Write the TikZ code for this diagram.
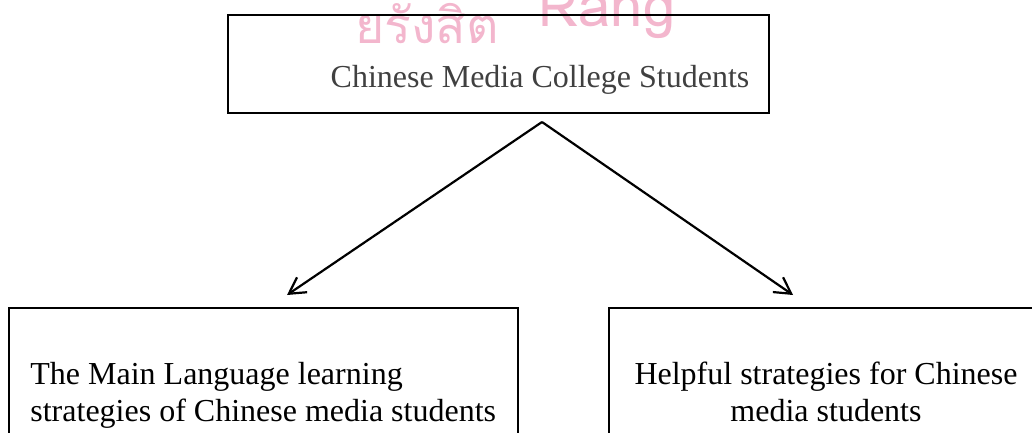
\documentclass[tikz,border=0pt]{standalone}
\usepackage{fontspec}
\setmainfont{Liberation Serif}
\newfontfamily\thaifont[Script=Thai]{Loma}
\usetikzlibrary{arrows.meta}
\definecolor{markpink}{RGB}{243,182,205}
\definecolor{titlegray}{RGB}{64,64,64}
\tikzset{
  framebox/.style={draw=black, line width=0.65pt, rectangle, inner sep=0pt},
  boxtext/.style={inner sep=0pt, font=\fontsize{16}{18.5}\selectfont},
  branch/.style={line width=1.1pt, -{Straight Barb[length=8pt,width=9pt,line width=1.1pt]}},
}
\begin{document}
\begin{tikzpicture}[x=0.5pt,y=-0.5pt]
  \useasboundingbox (0,0) rectangle (1032,433);
  \clip (0,0) rectangle (1032,433);
  % faint watermark along the top edge
  \node[text=markpink, inner sep=0pt, anchor=base west,
        font=\thaifont\fontsize{25}{25}\selectfont] (mark) at (355,44)
        {ยรังสิต\hspace{20pt}\raisebox{8.5pt}{\fontsize{29}{29}\selectfont Rang}};
  % boxes
  \node[framebox, minimum width=541*0.5pt, minimum height=98*0.5pt] (top) at (498.5,64) {};
  \node[framebox, minimum width=509*0.5pt, minimum height=200*0.5pt] (left) at (263.5,408) {};
  \node[framebox, minimum width=440*0.5pt, minimum height=200*0.5pt] (right) at (829,408) {};
  % texts
  \node[boxtext, text=titlegray, anchor=base] (toptext) at (540,88) {Chinese Media College Students};
  \node[boxtext, anchor=base west, align=left] (lefttext) at (30,421) {The Main Language learning\\strategies of Chinese media students};
  \node[boxtext, anchor=base, align=center] (righttext) at (826,421) {Helpful strategies for Chinese\\media students};
  % connectors
  \coordinate (split) at (542,122);
  \coordinate (lefttip) at (287,295);
  \coordinate (righttip) at (793,295);
  \draw[branch] (split) -- (lefttip);
  \draw[branch] (split) -- (righttip);
\end{tikzpicture}
\end{document}
